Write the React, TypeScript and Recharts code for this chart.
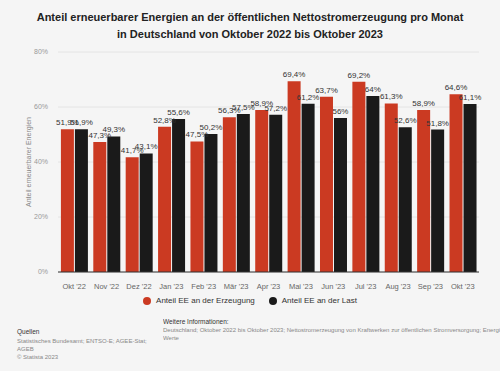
import React from 'react';
import { BarChart, Bar, XAxis, YAxis, CartesianGrid, LabelList } from 'recharts';

const categories = ["Okt '22", "Nov '22", "Dez '22", "Jan '23", "Feb '23", "Mär '23", "Apr '23", "Mai '23", "Jun '23", "Jul '23", "Aug '23", "Sep '23", "Okt '23"];
const erzeugung = [51.9, 47.3, 41.7, 52.8, 47.5, 56.3, 58.9, 69.4, 63.7, 69.2, 61.3, 58.9, 64.6];
const last = [51.9, 49.3, 43.1, 55.6, 50.2, 57.5, 57.2, 61.2, 56, 64, 52.6, 51.8, 61.1];
const yTicks = [0, 20, 40, 60, 80];

const data = categories.map((c, i) => ({ name: c, erzeugung: erzeugung[i], last: last[i] }));

const RED = '#cb3a22';
const BLACK = '#1a1a1a';
const FONT = '"Liberation Sans", Arial, sans-serif';

const fmt = (v: any) => String(v).replace('.', ',') + '%';

export default function App() {
  return (
    <div style={{ position: 'absolute', left: 0, top: 0, width: 500, height: 371, background: '#f5f5f5', fontFamily: FONT, overflow: 'hidden' }}>
      <div style={{ position: 'absolute', left: 0, top: 9, width: 500, textAlign: 'center', fontWeight: 'bold', fontSize: 11, lineHeight: '17px', color: '#222' }}>
        Anteil erneuerbarer Energien an der öffentlichen Nettostromerzeugung pro Monat<br />
        in Deutschland von Oktober 2022 bis Oktober 2023
      </div>
      <div style={{ position: 'absolute', left: 0, top: 0 }}>
        <BarChart width={500} height={371} data={data} margin={{ top: 52, right: 21, bottom: 69, left: 0 }} barCategoryGap="9%" barGap={1}>
          <CartesianGrid vertical={false} stroke="#e4e4e4" />
          <XAxis dataKey="name" interval={0} tickLine={false} axisLine={{ stroke: '#333' }} tick={{ fill: '#666', fontSize: 7.5, fontFamily: FONT }} tickMargin={6} height={30} />
          <YAxis domain={[0, 80]} ticks={yTicks} width={58} tickLine={false} axisLine={false} tickSize={0} tickMargin={10}
            tickFormatter={(v: number) => v + '%'} tick={{ fill: '#999', fontSize: 7, fontFamily: FONT }}
            label={{ value: 'Anteil erneuerbarer Energien', angle: -90, position: 'insideLeft', offset: 29, style: { fill: '#888', fontSize: 7, fontFamily: FONT, textAnchor: 'middle' } }} />
          <Bar dataKey="erzeugung" fill={RED} isAnimationActive={false}>
            <LabelList dataKey="erzeugung" position="top" offset={4} formatter={fmt} style={{ fill: '#333', fontSize: 8, fontFamily: FONT }} />
          </Bar>
          <Bar dataKey="last" fill={BLACK} isAnimationActive={false}>
            <LabelList dataKey="last" position="top" offset={4} formatter={fmt} style={{ fill: '#333', fontSize: 8, fontFamily: FONT }} />
          </Bar>
        </BarChart>
      </div>
      <div style={{ position: 'absolute', left: 0, top: 294, width: 500, display: 'flex', justifyContent: 'center', fontSize: 8, color: '#333', lineHeight: '14px' }}>
        <span style={{ display: 'flex', alignItems: 'center', marginRight: 14 }}>
          <span style={{ width: 8, height: 8, borderRadius: 4, background: RED, display: 'inline-block', marginRight: 5 }} />Anteil EE an der Erzeugung
        </span>
        <span style={{ display: 'flex', alignItems: 'center' }}>
          <span style={{ width: 8, height: 8, borderRadius: 4, background: BLACK, display: 'inline-block', marginRight: 5 }} />Anteil EE an der Last
        </span>
      </div>
      <div style={{ position: 'absolute', left: 17, top: 328, fontSize: 6, color: '#888', lineHeight: '8px' }}>
        <div style={{ color: '#333', fontSize: 6.5, marginBottom: 1 }}>Quellen</div>
        <div>Statistisches Bundesamt; ENTSO-E; AGEE-Stat;</div>
        <div>AGEB</div>
        <div>© Statista 2023</div>
      </div>
      <div style={{ position: 'absolute', left: 163, top: 318, width: 337, fontSize: 6, color: '#888', lineHeight: '8px', whiteSpace: 'nowrap', overflow: 'hidden' }}>
        <div style={{ color: '#333', fontSize: 6.5 }}>Weitere Informationen:</div>
        <div>Deutschland; Oktober 2022 bis Oktober 2023; Nettostromerzeugung von Kraftwerken zur öffentlichen Stromversorgung; Energieträger: Erneuerbare</div>
        <div>Werte</div>
      </div>
    </div>
  );
}
